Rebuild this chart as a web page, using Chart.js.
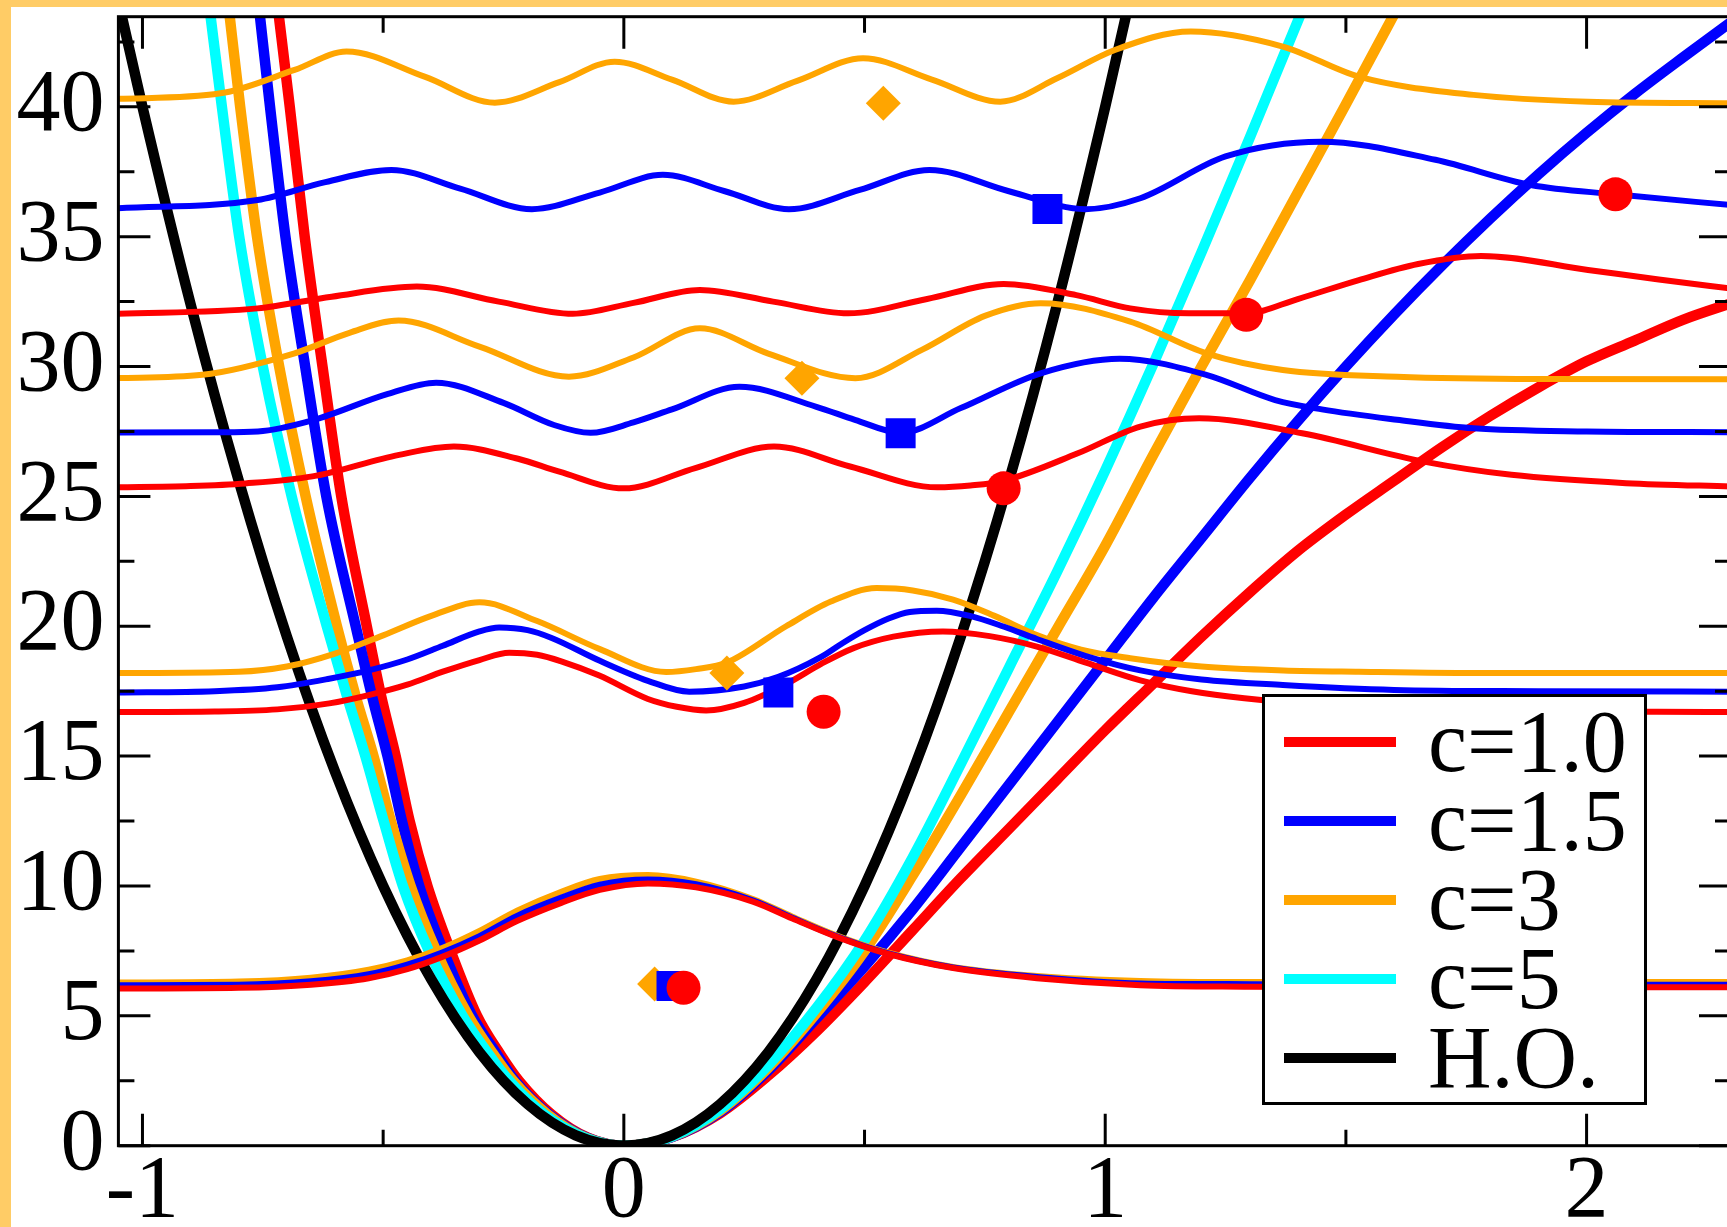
<!DOCTYPE html>
<html>
<head>
<meta charset="utf-8">
<script src="https://cdn.jsdelivr.net/npm/chart.js@4.4.0/dist/chart.umd.min.js"></script>
<style>
  html, body { margin: 0; padding: 0; width: 1727px; height: 1227px; overflow: hidden; background: #ffcc66; }
  #wrap { position: absolute; left: 11px; top: 7px; width: 1740px; height: 1240px; background: #fff; }
  canvas { display: block; }
  #legend { position: absolute; left: 1262px; top: 694px; width: 385px; height: 411px; box-sizing: border-box;
            border: 3px solid #000; background: #fff; padding-top: 5px; }
  #legend .row { position: relative; height: 79px; }
  #legend .swatch { position: absolute; left: 19px; top: 34.5px; width: 112px; height: 10px; }
  #legend .label { position: absolute; left: 163px; top: 0; line-height: 79px; font-size: 88px;
                   font-family: "Liberation Serif", "Times New Roman", serif; color: #000; white-space: nowrap; }
</style>
</head>
<body>
<div id="wrap"><canvas id="myChart" width="1740" height="1240"></canvas></div>
<div id="legend"></div>
<script>
// axis ticks
var xTickValues = [-1, 0, 1, 2];
var xTickLabels = ["-1", "0", "1", "2"];
var xMinorTicks = [-0.5, 0.5, 1.5];
var yTickValues = [0, 5, 10, 15, 20, 25, 30, 35, 40];
var yTickLabels = ["0", "5", "10", "15", "20", "25", "30", "35", "40"];
var yMinorTicks = [2.5, 7.5, 12.5, 17.5, 22.5, 27.5, 32.5, 37.5, 42.5];

// legend
var legendLabels = ["c=1.0", "c=1.5", "c=3", "c=5", "H.O."];
var legendColors = ["#ff0000", "#0000ff", "#ffa500", "#00ffff", "#000000"];

// potentials
var hoX = [-1.06, -1.0, -0.9, -0.8, -0.7, -0.6, -0.5, -0.4, -0.3, -0.2, -0.1, 0, 0.1, 0.2, 0.3, 0.4, 0.5, 0.6, 0.7, 0.8, 0.9, 1.0, 1.06];
var hoY = [44.9, 40, 32.4, 25.6, 19.6, 14.4, 10, 6.4, 3.6, 1.6, 0.4, 0, 0.4, 1.6, 3.6, 6.4, 10, 14.4, 19.6, 25.6, 32.4, 40, 44.9];

var potC5X = [-0.862, -0.835, -0.799, -0.75, -0.69, -0.617, -0.575, -0.537, -0.499, -0.459, -0.405, -0.335, -0.28, -0.238, -0.165, -0.08, 0, 0.1, 0.2, 0.3, 0.4, 0.5, 0.6, 0.7, 0.8, 0.9, 1.0, 1.1, 1.2, 1.3, 1.42];
var potC5Y = [44, 40, 35, 30, 25, 20, 17.3, 15, 12.5, 10, 7.5, 5, 3.5, 2.5, 1.2, 0.3, 0, 0.35, 1.4, 3.1, 5.3, 7.9, 11.1, 14.7, 18.4, 22.1, 26.0, 30.1, 34.4, 38.8, 44.2];

var potC3X = [-0.822, -0.797, -0.762, -0.716, -0.661, -0.596, -0.557, -0.52, -0.484, -0.443, -0.39, -0.323, -0.27, -0.23, -0.158, -0.078, 0, 0.1, 0.2, 0.3, 0.4, 0.5, 0.6, 0.7, 0.8, 0.9, 1.0, 1.1, 1.2, 1.3, 1.4, 1.5, 1.61];
var potC3Y = [44, 40, 35, 30, 25, 20, 17.3, 15, 12.5, 10, 7.5, 5, 3.5, 2.5, 1.2, 0.3, 0, 0.35, 1.35, 3.0, 5.1, 7.5, 10.4, 13.5, 16.7, 19.9, 23.1, 26.6, 30.0, 33.3, 36.7, 40.1, 43.9];

var potC15X = [-0.759, -0.735, -0.703, -0.662, -0.618, -0.557, -0.523, -0.491, -0.461, -0.425, -0.375, -0.315, -0.263, -0.226, -0.155, -0.076, 0, 0.1, 0.2, 0.3, 0.4, 0.5, 0.6, 0.7, 0.8, 0.9, 1.0, 1.1, 1.2, 1.3, 1.4, 1.5, 1.6, 1.7, 1.8, 1.9, 2.0, 2.1, 2.2, 2.31];
var potC15Y = [44, 40, 35, 30, 25, 20, 17.3, 15, 12.5, 10, 7.5, 5, 3.5, 2.5, 1.2, 0.3, 0, 0.33, 1.3, 2.9, 4.9, 6.9, 9.1, 11.5, 13.9, 16.3, 18.7, 21.1, 23.4, 25.7, 27.9, 30.0, 32.0, 33.9, 35.7, 37.4, 39.0, 40.5, 41.9, 43.4];

var potC1X = [-0.72, -0.694, -0.663, -0.626, -0.587, -0.534, -0.504, -0.474, -0.445, -0.408, -0.36, -0.305, -0.256, -0.218, -0.15, -0.074, 0, 0.1, 0.2, 0.3, 0.4, 0.5, 0.6, 0.7, 0.8, 0.9, 1.0, 1.1, 1.2, 1.3, 1.4, 1.5, 1.6, 1.7, 1.8, 1.9, 2.0, 2.1, 2.2, 2.31];
var potC1Y = [44, 40, 35, 30, 25, 20, 17.3, 15, 12.5, 10, 7.5, 5, 3.5, 2.5, 1.2, 0.3, 0, 0.33, 1.25, 2.7, 4.4, 6.3, 8.3, 10.3, 12.2, 14.1, 16.0, 17.8, 19.6, 21.3, 22.9, 24.3, 25.6, 26.9, 28.1, 29.2, 30.2, 31.0, 31.8, 32.5];

// levels, c=1.0 (red)
var redL1X = [-1.06, -0.8, -0.65, -0.53, -0.45, -0.376, -0.3, -0.222, -0.13, -0.05, 0.05, 0.15, 0.268, 0.35, 0.441, 0.546, 0.684, 0.858, 1.073, 1.3, 1.6, 2.0, 2.31];
var redL1Y = [6.05, 6.08, 6.2, 6.45, 6.8, 7.28, 7.9, 8.65, 9.35, 9.85, 10.1, 9.95, 9.4, 8.75, 8.05, 7.4, 6.84, 6.45, 6.18, 6.12, 6.1, 6.1, 6.1];
var redL2X = [-1.06, -0.85, -0.72, -0.612, -0.53, -0.45, -0.376, -0.3, -0.238, -0.18, -0.13, -0.051, 0.05, 0.11, 0.171, 0.25, 0.337, 0.41, 0.476, 0.56, 0.663, 0.76, 0.858, 0.96, 1.073, 1.18, 1.289, 1.5, 1.8, 2.31];
var redL2Y = [16.7, 16.72, 16.8, 17.03, 17.35, 17.75, 18.25, 18.7, 18.98, 18.9, 18.65, 18.1, 17.2, 16.9, 16.76, 17.05, 17.77, 18.55, 19.15, 19.6, 19.8, 19.62, 19.22, 18.6, 17.92, 17.5, 17.23, 16.9, 16.75, 16.7];
var redL3X = [-1.06, -0.9, -0.786, -0.647, -0.467, -0.353, -0.22, -0.134, 0, 0.15, 0.312, 0.47, 0.651, 0.72, 0.789, 0.943, 1.073, 1.195, 1.409, 1.662, 1.844, 2.082, 2.31];
var redL3Y = [25.35, 25.4, 25.5, 25.77, 26.6, 26.92, 26.45, 25.95, 25.31, 26.1, 26.92, 26.15, 25.35, 25.42, 25.6, 26.66, 27.69, 28.01, 27.43, 26.34, 25.83, 25.51, 25.38];
var redL4X = [-1.06, -0.761, -0.607, -0.43, -0.26, -0.106, 0.02, 0.158, 0.31, 0.466, 0.63, 0.789, 0.94, 1.052, 1.174, 1.293, 1.4, 1.527, 1.65, 1.781, 2.003, 2.15, 2.31];
var redL4Y = [32.03, 32.24, 32.69, 33.08, 32.5, 32.03, 32.45, 32.95, 32.5, 32.05, 32.6, 33.18, 32.75, 32.24, 32.05, 32.05, 32.6, 33.33, 33.95, 34.26, 33.72, 33.35, 32.98];

// levels, c=1.5 (blue)
var blueL1X = redL1X;
var blueL1Y = [6.18, 6.2, 6.33, 6.6, 6.97, 7.45, 8.07, 8.85, 9.55, 10.05, 10.25, 10.07, 9.45, 8.78, 8.07, 7.42, 6.86, 6.5, 6.25, 6.22, 6.2, 6.2, 6.2];
var blueL2X = [-1.06, -0.85, -0.72, -0.612, -0.53, -0.45, -0.376, -0.3, -0.259, -0.2, -0.15, -0.051, 0.05, 0.136, 0.25, 0.321, 0.407, 0.45, 0.5, 0.55, 0.594, 0.65, 0.719, 0.79, 0.858, 0.96, 1.073, 1.2, 1.369, 1.6, 1.9, 2.31];
var blueL2Y = [17.45, 17.5, 17.65, 17.98, 18.3, 18.72, 19.25, 19.8, 19.95, 19.85, 19.55, 18.68, 17.9, 17.48, 17.68, 18.05, 18.79, 19.3, 19.85, 20.3, 20.55, 20.6, 20.4, 19.98, 19.51, 18.85, 18.3, 17.95, 17.74, 17.55, 17.5, 17.48];
var blueL3X = [-1.06, -0.84, -0.76, -0.645, -0.49, -0.39, -0.25, -0.145, -0.069, 0.02, 0.1, 0.24, 0.4, 0.48, 0.575, 0.7, 0.866, 1.03, 1.21, 1.353, 1.45, 1.606, 1.765, 2.0, 2.31];
var blueL3Y = [27.46, 27.47, 27.5, 27.94, 28.95, 29.38, 28.6, 27.75, 27.45, 27.85, 28.35, 29.22, 28.45, 27.95, 27.45, 28.4, 29.74, 30.3, 29.68, 28.71, 28.35, 27.95, 27.62, 27.5, 27.47];
var blueL4X = [-1.06, -0.761, -0.62, -0.483, -0.34, -0.191, -0.05, 0.081, 0.21, 0.343, 0.49, 0.635, 0.8, 0.959, 1.073, 1.25, 1.448, 1.686, 1.884, 2.06, 2.31];
var blueL4Y = [36.09, 36.41, 37.1, 37.57, 36.85, 36.06, 36.7, 37.38, 36.75, 36.06, 36.8, 37.57, 36.75, 36.06, 36.48, 38.09, 38.66, 37.96, 36.99, 36.63, 36.2];

// levels, c=3 (orange)
var orangeL1X = redL1X;
var orangeL1Y = [6.28, 6.32, 6.47, 6.78, 7.14, 7.62, 8.27, 9.05, 9.78, 10.27, 10.42, 10.17, 9.5, 8.82, 8.1, 7.45, 6.88, 6.53, 6.34, 6.3, 6.3, 6.3, 6.3];
var orangeL2X = [-1.06, -0.8, -0.7, -0.6, -0.5, -0.4, -0.3, -0.18, -0.051, 0.088, 0.15, 0.214, 0.337, 0.43, 0.525, 0.6, 0.684, 0.77, 0.858, 0.95, 1.052, 1.2, 1.37, 1.527, 1.8, 2.31];
var orangeL2Y = [18.2, 18.25, 18.45, 18.95, 19.65, 20.4, 20.92, 20.2, 19.13, 18.24, 18.35, 18.6, 20.0, 20.95, 21.47, 21.38, 21.03, 20.4, 19.66, 19.1, 18.77, 18.45, 18.3, 18.25, 18.2, 18.2];
var orangeL3X = [-1.06, -0.876, -0.684, -0.57, -0.468, -0.3, -0.114, 0.02, 0.158, 0.3, 0.481, 0.62, 0.75, 0.866, 1.052, 1.21, 1.369, 1.606, 1.9, 2.31];
var orangeL3Y = [29.55, 29.68, 30.51, 31.3, 31.77, 30.77, 29.61, 30.35, 31.47, 30.5, 29.55, 30.65, 31.95, 32.44, 31.73, 30.51, 29.87, 29.61, 29.52, 29.51];
var orangeL5X = [-1.06, -0.838, -0.684, -0.576, -0.414, -0.268, -0.134, -0.019, 0.1, 0.228, 0.36, 0.497, 0.64, 0.782, 0.9, 1.02, 1.178, 1.369, 1.527, 1.765, 2.003, 2.31];
var orangeL5Y = [40.3, 40.52, 41.42, 42.13, 41.16, 40.16, 40.95, 41.74, 41.05, 40.2, 41.0, 41.87, 41.05, 40.2, 41.1, 42.19, 42.9, 42.32, 41.16, 40.46, 40.2, 40.14];

// markers
var redMarkX = [0.124, 0.415, 0.789, 1.293, 2.06];
var redMarkY = [6.08, 16.71, 25.31, 31.99, 36.63];
var blueMarkX = [0.099, 0.321, 0.575, 0.88];
var blueMarkY = [6.15, 17.45, 27.43, 36.07];
var orangeMarkX = [0.064, 0.214, 0.37, 0.539];
var orangeMarkY = [6.23, 18.2, 29.55, 40.14];

var RED = "#ff0000", BLUE = "#0000ff", ORANGE = "#ffa500", CYAN = "#00ffff", BLACK = "#000000";

function toPoints(xs, ys) {
    return xs.map(function (x, i) { return { x: x, y: ys[i] }; });
}

function curve(xs, ys, color, width, order) {
    return {
        data: toPoints(xs, ys),
        borderColor: color,
        borderWidth: width,
        pointRadius: 0,
        fill: false,
        cubicInterpolationMode: "monotone",
        borderJoinStyle: "round",
        order: order
    };
}

function marks(xs, ys, color, style, radius, order) {
    return {
        data: toPoints(xs, ys),
        showLine: false,
        pointStyle: style,
        pointRadius: radius,
        pointBackgroundColor: color,
        pointBorderColor: color,
        pointBorderWidth: 0,
        order: order
    };
}

var THICK = 10.5, THIN = 6;

var datasets = [
    // thick potentials
    curve(potC1X, potC1Y, RED, THICK, 40),
    curve(potC15X, potC15Y, BLUE, THICK, 39),
    curve(potC3X, potC3Y, ORANGE, THICK, 38),
    curve(potC5X, potC5Y, CYAN, THICK, 37),
    curve(hoX, hoY, BLACK, THICK, 36),
    // thin levels
    curve(orangeL1X, orangeL1Y, ORANGE, THIN, 30),
    curve(orangeL2X, orangeL2Y, ORANGE, THIN, 30),
    curve(orangeL3X, orangeL3Y, ORANGE, THIN, 30),
    curve(orangeL5X, orangeL5Y, ORANGE, THIN, 30),
    curve(blueL1X, blueL1Y, BLUE, THIN, 29),
    curve(blueL2X, blueL2Y, BLUE, THIN, 29),
    curve(blueL3X, blueL3Y, BLUE, THIN, 29),
    curve(blueL4X, blueL4Y, BLUE, THIN, 29),
    curve(redL1X, redL1Y, RED, THIN, 28),
    curve(redL2X, redL2Y, RED, THIN, 28),
    curve(redL3X, redL3Y, RED, THIN, 28),
    curve(redL4X, redL4Y, RED, THIN, 28),
    // markers
    marks(orangeMarkX, orangeMarkY, ORANGE, "rectRot", 17.5, 3),
    marks(blueMarkX, blueMarkY, BLUE, "rect", 21.2, 2),
    marks(redMarkX, redMarkY, RED, "circle", 17, 1)
];

// frame and inward ticks on all four sides
var frameTicks = {
    id: "frameTicks",
    afterDatasetsDraw: function (chart) {
        var ctx = chart.ctx, a = chart.chartArea;
        var xs = chart.scales.x, ys = chart.scales.y;
        ctx.save();
        ctx.strokeStyle = "#000";
        ctx.lineWidth = 3;
        ctx.beginPath();
        function seg(x1, y1, x2, y2) { ctx.moveTo(x1, y1); ctx.lineTo(x2, y2); }
        function xTick(v, len) {
            var p = xs.getPixelForValue(v);
            seg(p, a.bottom, p, a.bottom - len);
            seg(p, a.top, p, a.top + len);
        }
        function yTick(v, len) {
            var p = ys.getPixelForValue(v);
            seg(a.left, p, a.left + len, p);
            seg(a.right, p, a.right - len, p);
        }
        xTickValues.forEach(function (v) { xTick(v, 32); });
        xMinorTicks.forEach(function (v) { xTick(v, 16); });
        yTickValues.forEach(function (v) { yTick(v, 32); });
        yMinorTicks.forEach(function (v) { yTick(v, 16); });
        ctx.stroke();
        ctx.strokeRect(a.left, a.top, a.right - a.left, a.bottom - a.top);
        ctx.restore();
    }
};

var tickFont = { family: "'Liberation Serif', 'Times New Roman', serif", size: 88, lineHeight: 1 };

new Chart("myChart", {
    type: "line",
    data: { datasets: datasets },
    options: {
        responsive: false,
        devicePixelRatio: 1,
        animation: false,
        events: [],
        layout: { autoPadding: false, padding: { top: 9.7, right: 20, left: 0, bottom: 0 } },
        plugins: {
            legend: { display: false },
            tooltip: { enabled: false }
        },
        scales: {
            x: {
                type: "linear",
                min: -1.05,
                max: 2.3,
                grid: { display: false, drawTicks: false },
                border: { display: false },
                afterBuildTicks: function (scale) {
                    scale.ticks = xTickValues.map(function (v) { return { value: v }; });
                },
                afterFit: function (scale) {
                    scale.height = 101.3;
                    scale.paddingLeft = 0;
                    scale.paddingRight = 0;
                },
                ticks: {
                    autoSkip: false,
                    maxRotation: 0,
                    minRotation: 0,
                    padding: 3.5,
                    color: "#000",
                    font: tickFont,
                    callback: function (value, index) { return xTickLabels[index]; }
                }
            },
            y: {
                type: "linear",
                min: 0,
                max: 43.47,
                grid: { display: false, drawTicks: false },
                border: { display: false },
                afterBuildTicks: function (scale) {
                    scale.ticks = yTickValues.map(function (v) { return { value: v }; });
                },
                afterFit: function (scale) {
                    scale.width = 107.4;
                    scale.paddingTop = 0;
                    scale.paddingBottom = 0;
                },
                ticks: {
                    autoSkip: false,
                    padding: 14,
                    color: "#000",
                    font: tickFont,
                    callback: function (value, index) { return yTickLabels[index]; }
                }
            }
        }
    },
    plugins: [frameTicks]
});

// legend box
var legend = document.getElementById("legend");
legendLabels.forEach(function (text, i) {
    var row = document.createElement("div");
    row.className = "row";
    var sw = document.createElement("span");
    sw.className = "swatch";
    sw.style.background = legendColors[i];
    var lab = document.createElement("span");
    lab.className = "label";
    lab.textContent = text;
    row.appendChild(sw);
    row.appendChild(lab);
    legend.appendChild(row);
});
</script>
</body>
</html>
